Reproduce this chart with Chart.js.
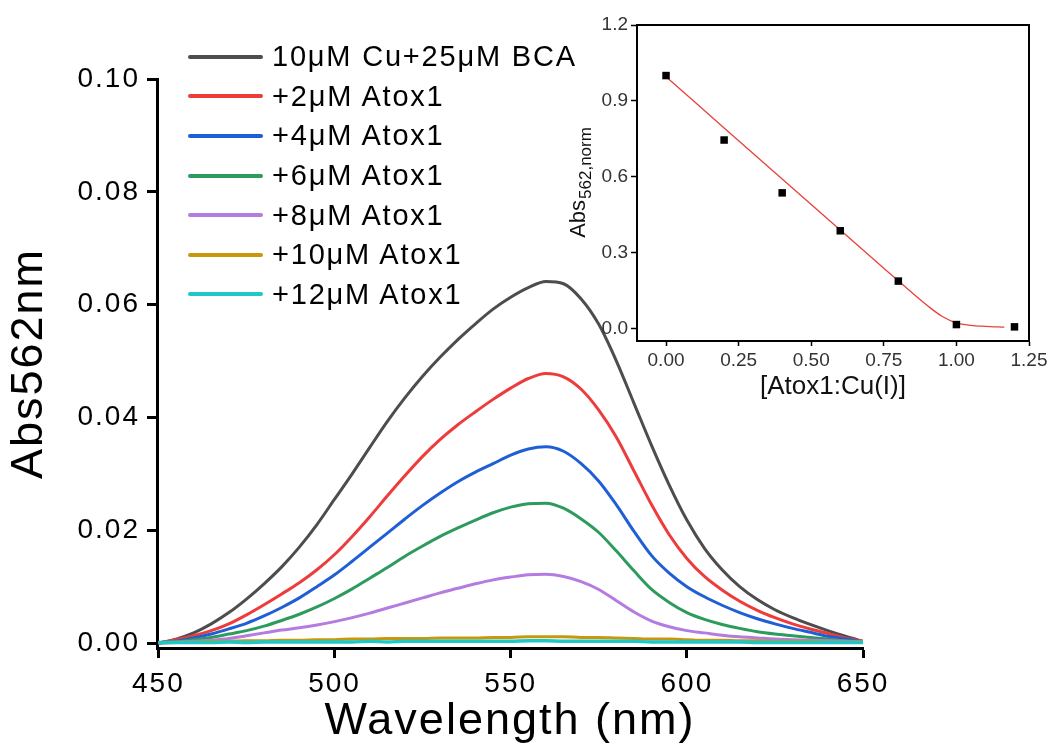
<!DOCTYPE html>
<html>
<head>
<meta charset="utf-8">
<title>Abs562nm titration</title>
<script src="https://cdn.jsdelivr.net/npm/chart.js@4.4.1/dist/chart.umd.min.js"></script>
<style>
  html, body { margin: 0; padding: 0; background: #fff; }
  #wrap { position: relative; width: 1051px; height: 750px; overflow: hidden;
          font-family: "Liberation Sans", Arial, sans-serif; }
  #main { position: absolute; left: 0; top: 0; }
  #inset { position: absolute; left: 540px; top: 0; }
  #legend { position: absolute; left: 188px; top: 37px; margin: 0; padding: 0; list-style: none; }
  #legend li { display: flex; align-items: center; height: 39.6px; font-size: 29px;
               letter-spacing: 1.8px; color: #000; white-space: nowrap; }
  #legend .swatch { display: inline-block; width: 75px; height: 4px; margin-right: 9px; border-radius: 2px; }
</style>
</head>
<body>
<div id="wrap">
  <canvas id="main" width="1051" height="750"></canvas>
  <canvas id="inset" width="511" height="420"></canvas>
  <ul id="legend"></ul>
</div>
<script>
// ---- spectra: absorbance vs wavelength ----
const wavelengths = [450,455,460,465,470,475,480,485,490,495,500,505,510,515,520,525,530,535,540,545,
                     550,555,560,565,570,575,580,585,590,595,600,605,610,615,620,625,630,635,640,645,650];

const absCuBCA = [0.0000,0.0007,0.0018,0.0034,0.0054,0.0078,0.0105,0.0135,0.0170,0.0210,
                  0.0255,0.0300,0.0347,0.0393,0.0435,0.0473,0.0507,0.0538,0.0566,0.0592,
                  0.0613,0.0630,0.0641,0.0637,0.0610,0.0565,0.0500,0.0425,0.0350,0.0280,
                  0.0218,0.0168,0.0130,0.0100,0.0077,0.0059,0.0045,0.0033,0.0022,0.0012,0.0003];
const absAtox2 = [0.0000,0.0006,0.0013,0.0022,0.0034,0.0050,0.0068,0.0087,0.0107,0.0130,
                  0.0157,0.0189,0.0224,0.0261,0.0297,0.0331,0.0361,0.0387,0.0410,0.0432,
                  0.0452,0.0469,0.0478,0.0472,0.0450,0.0413,0.0365,0.0305,0.0245,0.0192,
                  0.0150,0.0118,0.0094,0.0074,0.0058,0.0045,0.0034,0.0025,0.0017,0.0009,0.0003];
const absAtox4 = [0.0000,0.0003,0.0009,0.0016,0.0025,0.0035,0.0048,0.0063,0.0080,0.0100,
                  0.0121,0.0145,0.0170,0.0195,0.0220,0.0244,0.0266,0.0286,0.0303,0.0318,
                  0.0333,0.0344,0.0348,0.0340,0.0318,0.0287,0.0245,0.0198,0.0155,0.0124,
                  0.0100,0.0082,0.0067,0.0054,0.0043,0.0034,0.0026,0.0019,0.0012,0.0007,0.0002];
const absAtox6 = [0.0000,0.0002,0.0006,0.0010,0.0016,0.0022,0.0030,0.0040,0.0051,0.0064,
                  0.0079,0.0096,0.0115,0.0134,0.0154,0.0172,0.0189,0.0204,0.0218,0.0231,
                  0.0241,0.0247,0.0248,0.0239,0.0220,0.0196,0.0163,0.0128,0.0095,0.0072,
                  0.0054,0.0042,0.0033,0.0026,0.0020,0.0016,0.0013,0.0010,0.0007,0.0004,0.0002];
const absAtox8 = [0.0000,0.0001,0.0003,0.0005,0.0008,0.0013,0.0018,0.0023,0.0027,0.0032,
                  0.0038,0.0045,0.0053,0.0062,0.0071,0.0080,0.0089,0.0097,0.0105,0.0112,
                  0.0117,0.0121,0.0122,0.0118,0.0109,0.0095,0.0075,0.0055,0.0039,0.0029,
                  0.0022,0.0018,0.0014,0.0011,0.0009,0.0007,0.0006,0.0005,0.0004,0.0003,0.0002];
const absAtox10 = [0.0001,0.0002,0.0002,0.0003,0.0003,0.0004,0.0004,0.0005,0.0005,0.0006,
                   0.0006,0.0007,0.0007,0.0008,0.0008,0.0008,0.0009,0.0009,0.0009,0.0010,
                   0.0010,0.0011,0.0011,0.0011,0.0010,0.0010,0.0009,0.0008,0.0007,0.0007,
                   0.0006,0.0005,0.0005,0.0004,0.0004,0.0003,0.0003,0.0003,0.0002,0.0002,0.0002];
const absAtox12 = [0.0001,0.0001,0.0001,0.0001,0.0002,0.0001,0.0002,0.0002,0.0002,0.0002,
                   0.0002,0.0002,0.0003,0.0002,0.0003,0.0003,0.0003,0.0003,0.0003,0.0003,
                   0.0003,0.0004,0.0004,0.0003,0.0003,0.0003,0.0003,0.0003,0.0002,0.0002,
                   0.0002,0.0002,0.0002,0.0002,0.0001,0.0001,0.0001,0.0001,0.0001,0.0001,0.0001];

const seriesLabels = ['10μM Cu+25μM BCA', '+2μM Atox1', '+4μM Atox1', '+6μM Atox1',
                      '+8μM Atox1', '+10μM Atox1', '+12μM Atox1'];
const seriesValues = [absCuBCA, absAtox2, absAtox4, absAtox6, absAtox8, absAtox10, absAtox12];

const xTickValues = [450, 500, 550, 600, 650];
const yTickValues = [0.00, 0.02, 0.04, 0.06, 0.08, 0.10];

// ---- inset: normalised Abs562 vs [Atox1:Cu(I)] ----
const ratio    = [0.0, 0.2, 0.4, 0.6, 0.8, 1.0, 1.2];
const absNorm  = [1.000, 0.745, 0.536, 0.386, 0.187, 0.015, 0.006];
const fitRatio   = [0.00, 0.10, 0.20, 0.30, 0.40, 0.50, 0.60, 0.70, 0.80, 0.85, 0.90, 0.95, 1.00, 1.05, 1.10, 1.165];
const fitAbsNorm = [0.995, 0.894, 0.793, 0.692, 0.591, 0.490, 0.389, 0.288, 0.188, 0.138, 0.090, 0.048, 0.022, 0.012, 0.008, 0.005];
const insetXTicks = [0.00, 0.25, 0.50, 0.75, 1.00, 1.25];
const insetYTicks = [0.0, 0.3, 0.6, 0.9, 1.2];

// ---- styling ----
const lineColors = ['#4d4d4d', '#ee3b3b', '#1f5fd6', '#2e9b5e', '#b47be0', '#c9970c', '#1ec8c8'];
const FONT = '"Liberation Sans", Arial, sans-serif';
Chart.defaults.font.family = FONT;
Chart.defaults.color = '#000';

const setTicks = values => scale => { scale.ticks = values.map(v => ({ value: v })); };

// legend rendered as an HTML list from the chart's datasets
const htmlLegend = {
  id: 'htmlLegend',
  afterUpdate(chart) {
    const ul = document.getElementById('legend');
    ul.innerHTML = '';
    chart.data.datasets.forEach(ds => {
      const li = document.createElement('li');
      const sw = document.createElement('span');
      sw.className = 'swatch';
      sw.style.background = ds.borderColor;
      const tx = document.createElement('span');
      tx.textContent = ds.label;
      li.append(sw, tx);
      ul.appendChild(li);
    });
  }
};

// slightly wider letter spacing for the main axis text
const wideText = {
  id: 'wideText',
  beforeDraw(chart) { chart.ctx.letterSpacing = '2px'; }
};

new Chart(document.getElementById('main'), {
  type: 'line',
  data: {
    datasets: seriesValues.map((vals, i) => ({
      label: seriesLabels[i],
      data: wavelengths.map((w, j) => ({ x: w, y: vals[j] })),
      borderColor: lineColors[i],
      backgroundColor: lineColors[i],
      borderWidth: i === 6 ? 3.5 : 3,
      pointRadius: 0,
      cubicInterpolationMode: 'monotone',
      order: seriesValues.length - 1 - i
    }))
  },
  options: {
    responsive: false,
    animation: false,
    events: [],
    layout: { padding: { left: 0, right: 188, top: 79, bottom: 0 } },
    plugins: { legend: { display: false }, tooltip: { enabled: false } },
    scales: {
      x: {
        type: 'linear',
        min: 449.6,
        max: 650,
        afterBuildTicks: setTicks(xTickValues),
        afterFit: s => { s.height = 102; },
        border: { display: true, color: '#000', width: 3 },
        grid: { display: true, drawOnChartArea: false, drawTicks: true,
                tickLength: 10, tickWidth: 3, tickColor: '#000' },
        ticks: { font: { size: 28 }, color: '#000', padding: 9, maxRotation: 0,
                 autoSkip: false, callback: v => String(v) },
        title: { display: true, text: 'Wavelength (nm)', font: { size: 45 },
                 color: '#000', padding: { top: 0, bottom: 1 } }
      },
      y: {
        type: 'linear',
        min: -0.00088,
        max: 0.10,
        afterBuildTicks: setTicks(yTickValues),
        afterFit: s => { s.width = 157; },
        border: { display: true, color: '#000', width: 3 },
        grid: { display: true, drawOnChartArea: false, drawTicks: true,
                tickLength: 10, tickWidth: 3, tickColor: '#000' },
        ticks: { font: { size: 28 }, color: '#000', padding: 7,
                 autoSkip: false, callback: v => v.toFixed(2) },
        title: { display: true, text: 'Abs562nm', font: { size: 45 },
                 color: '#000', padding: { top: 3, bottom: 0 } }
      }
    }
  },
  plugins: [htmlLegend, wideText]
});

// rotated y title with subscript for the inset
const insetYTitle = {
  id: 'insetYTitle',
  afterDraw(chart) {
    const { ctx, chartArea } = chart;
    const cy = (chartArea.top + chartArea.bottom) / 2;
    const main = 'Abs', sub = '562,norm';
    ctx.save();
    ctx.fillStyle = '#111';
    ctx.textBaseline = 'alphabetic';
    ctx.textAlign = 'left';
    ctx.font = '22px ' + FONT;
    const w1 = ctx.measureText(main).width;
    ctx.font = '17px ' + FONT;
    const w2 = ctx.measureText(sub).width;
    ctx.translate(45, cy);
    ctx.rotate(-Math.PI / 2);
    const start = -(w1 + w2) / 2;
    ctx.font = '22px ' + FONT;
    ctx.fillText(main, start, 0);
    ctx.font = '17px ' + FONT;
    ctx.fillText(sub, start + w1 + 1, 6);
    ctx.restore();
  }
};

new Chart(document.getElementById('inset'), {
  type: 'scatter',
  data: {
    datasets: [
      {
        label: 'Abs562,norm',
        data: ratio.map((r, i) => ({ x: r, y: absNorm[i] })),
        pointStyle: 'rect',
        pointRadius: 5.3,
        backgroundColor: '#000',
        borderColor: '#000',
        borderWidth: 0,
        showLine: false
      },
      {
        label: 'fit',
        data: fitRatio.map((r, i) => ({ x: r, y: fitAbsNorm[i] })),
        showLine: true,
        borderColor: '#e8413a',
        borderWidth: 1.3,
        pointRadius: 0,
        cubicInterpolationMode: 'monotone'
      }
    ]
  },
  options: {
    responsive: false,
    animation: false,
    events: [],
    layout: { padding: { left: 0, right: 22, top: 25, bottom: 0 } },
    plugins: { legend: { display: false }, tooltip: { enabled: false } },
    scales: {
      x: {
        type: 'linear', position: 'bottom',
        min: -0.1, max: 1.25,
        afterBuildTicks: setTicks(insetXTicks),
        afterFit: s => { s.height = 79; },
        border: { display: true, color: '#000', width: 2 },
        grid: { display: true, drawOnChartArea: false, drawTicks: true,
                tickLength: 5, tickWidth: 1.5, tickColor: '#000' },
        ticks: { font: { size: 19 }, color: '#333', padding: 3, maxRotation: 0,
                 autoSkip: false, callback: v => v.toFixed(2) },
        title: { display: true, text: '[Atox1:Cu(I)]', font: { size: 26 },
                 color: '#111', padding: { top: 0, bottom: 18 } }
      },
      y: {
        type: 'linear', position: 'left',
        min: -0.05, max: 1.2,
        afterBuildTicks: setTicks(insetYTicks),
        afterFit: s => { s.width = 97; },
        border: { display: true, color: '#000', width: 2 },
        grid: { display: true, drawOnChartArea: false, drawTicks: true,
                tickLength: 6, tickWidth: 1.5, tickColor: '#000' },
        ticks: { font: { size: 19 }, color: '#333', padding: 3,
                 autoSkip: false, callback: v => v.toFixed(1) }
      },
      xTop: {
        type: 'linear', position: 'top', min: 0, max: 1,
        afterFit: s => { s.height = 0; },
        border: { display: true, color: '#000', width: 2 },
        grid: { display: false, drawTicks: false },
        ticks: { display: false }
      },
      yRight: {
        type: 'linear', position: 'right', min: 0, max: 1,
        afterFit: s => { s.width = 0; },
        border: { display: true, color: '#000', width: 2 },
        grid: { display: false, drawTicks: false },
        ticks: { display: false }
      }
    }
  },
  plugins: [insetYTitle]
});
</script>
</body>
</html>
